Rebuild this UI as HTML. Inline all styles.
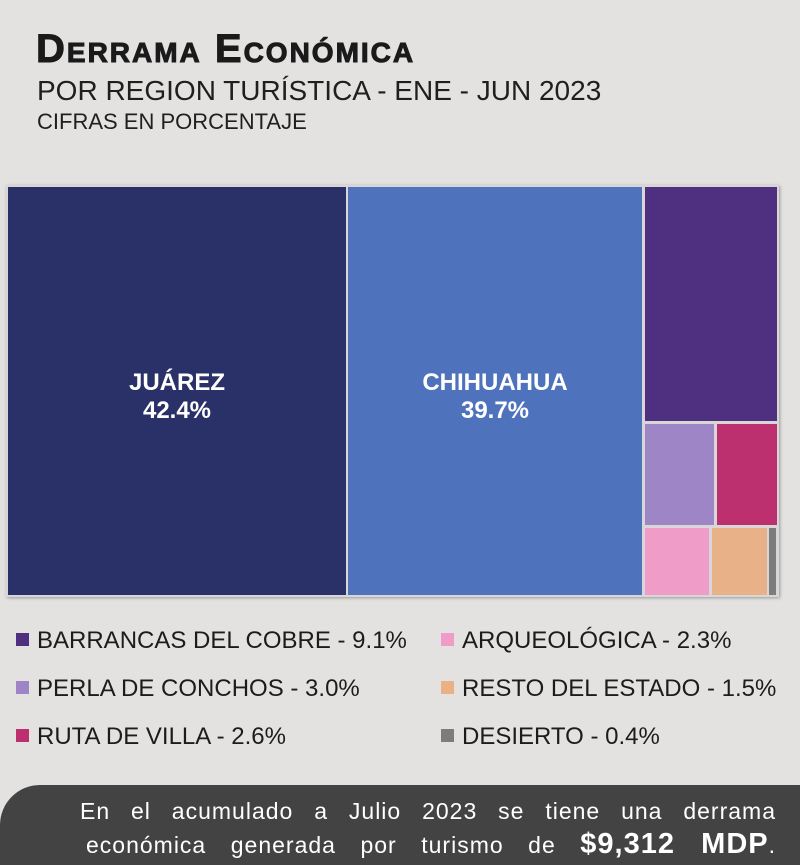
<!DOCTYPE html>
<html><head><meta charset="utf-8"><style>
body{margin:0;width:800px;height:865px;background:#e3e2e1;position:relative;overflow:hidden;font-family:"Liberation Sans",sans-serif;}
.a{position:absolute}
.t1{left:36px;top:27px;font-size:40px;font-weight:bold;color:#1a1a1a;letter-spacing:2px;font-variant:small-caps;-webkit-text-stroke:1px #1a1a1a}
.t2{left:37px;top:75px;font-size:28px;color:#1f1f1f}
.t3{left:37px;top:109px;font-size:22px;color:#1f1f1f}
.r{position:absolute}
.lab{color:#fff;font-size:24px;text-align:center;line-height:28px;font-weight:bold}
.lg{position:absolute;font-size:24px;color:#1c1c1c;white-space:nowrap}
.lg i{display:inline-block;width:13px;height:13px;margin-right:8px;vertical-align:2px}
.bar{left:0;top:785px;width:800px;height:80px;background:#434343;border-top-left-radius:40px}
.bt{position:absolute;right:24px;color:#fff;font-size:23px;text-align:justify;text-align-last:justify;letter-spacing:1px;word-spacing:5px}
</style></head><body>
<div class="a t1">Derrama Económica</div>
<div class="a t2">POR REGION TURÍSTICA - ENE - JUN 2023</div>
<div class="a t3">CIFRAS EN PORCENTAJE</div>
<div class="a" style="left:6px;top:185px;width:773px;height:412px;background:#d8d6d6;box-shadow:1px 1px 3px #999"></div>
<div class="r" style="left:8px;top:187px;width:338px;height:408px;background:#2a3168"></div>
<div class="a lab" style="left:8px;top:369px;width:338px">JUÁREZ<br>42.4%</div>
<div class="r" style="left:348px;top:187px;width:294px;height:408px;background:#4f72bd"></div>
<div class="a lab" style="left:348px;top:369px;width:294px">CHIHUAHUA<br>39.7%</div>
<div class="r" style="left:645px;top:187px;width:132px;height:234px;background:#4f2f80"></div>
<div class="r" style="left:645px;top:424px;width:69px;height:101px;background:#9e86c6"></div>
<div class="r" style="left:717px;top:424px;width:60px;height:101px;background:#bc3070"></div>
<div class="r" style="left:645px;top:528px;width:64px;height:67px;background:#ef9cc8"></div>
<div class="r" style="left:712px;top:528px;width:55px;height:67px;background:#e8b188"></div>
<div class="r" style="left:769px;top:528px;width:7px;height:67px;background:#7c7c7c"></div>
<div class="lg" style="left:16px;top:627px"><i style="background:#4f2f80"></i>BARRANCAS DEL COBRE - 9.1%</div>
<div class="lg" style="left:16px;top:675px"><i style="background:#9e86c6"></i>PERLA DE CONCHOS - 3.0%</div>
<div class="lg" style="left:16px;top:723px"><i style="background:#bc3070"></i>RUTA DE VILLA - 2.6%</div>
<div class="lg" style="left:441px;top:627px"><i style="background:#ef9cc8"></i>ARQUEOLÓGICA - 2.3%</div>
<div class="lg" style="left:441px;top:675px"><i style="background:#e8b188"></i>RESTO DEL ESTADO - 1.5%</div>
<div class="lg" style="left:441px;top:723px"><i style="background:#7c7c7c"></i>DESIERTO - 0.4%</div>
<div class="a bar"></div>
<div class="bt" style="left:80px;top:798px;height:28px">En el acumulado a Julio 2023 se tiene una derrama</div>
<div class="bt" style="left:86px;top:828px;height:30px">económica generada por turismo de <b style="font-size:29px">$9,312 MDP</b>.</div>
</body></html>
